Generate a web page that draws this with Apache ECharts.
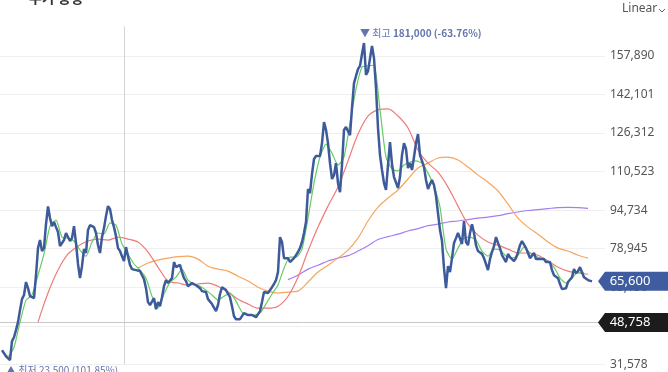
<!DOCTYPE html>
<html><head><meta charset="utf-8">
<script src="https://cdn.jsdelivr.net/npm/echarts/dist/echarts.min.js"></script>
<style>html,body{margin:0;padding:0;background:#fff}#c{width:668px;height:372px}</style>
</head><body><div id="c"></div>
<script>
// daily closing prices (one per trading day, oldest first)
const closes = [
 37400, 36200, 34900, 34100, 33300, 41100, 42700, 45600, 48900, 53800,
 58300, 60000, 65300, 62800, 59500, 59100, 58700, 68100, 79200, 82500,
 78000, 79200, 89000, 96300, 91500, 88200, 89900, 87800, 85800, 80000,
 79600, 82500, 85400, 86200, 82100, 83300, 88200, 81300, 72700, 66900,
 71800, 78800, 77200, 86600, 88600, 88600, 87800, 85400, 80400, 77200,
 83700, 87400, 92300, 96400, 95200, 90700, 87800, 84100, 79200, 78000,
 75900, 73900, 79600, 75900, 72300, 70600, 70600, 70200, 70200, 69800,
 68100, 66500, 62800, 57100, 55900, 55900, 58700, 54200, 57100, 55400,
 59100, 63600, 66100, 64900, 64900, 66900, 73500, 71400, 71800, 72300,
 69400, 66900, 65700, 63600, 63200, 64900, 64900, 64000, 63600, 62800,
 61600, 60800, 61200, 58300, 59100, 56300, 56300, 53400, 55900, 60400,
 63200, 62800, 62000, 61200, 59100, 55400, 51300, 50100, 49700, 50100,
 50900, 52600, 52600, 51800, 51300, 51800, 51300, 50900, 51300, 53400,
 57100, 61200, 60800, 60800, 61200, 63200, 64500, 66100, 69400, 83700,
 81700, 75100, 75500, 75100, 73500, 73500, 75100, 76300, 77600, 79200,
 81700, 85400, 89900, 103400, 101700, 109500, 115700, 116900, 117300, 116900,
 122200, 130800, 127600, 122200, 114000, 107500, 109100, 114000, 105800, 102100,
 113200, 127600, 128800, 127100, 125500, 136600, 146800, 149700, 152500, 153800,
 158700, 163200, 150100, 151700, 151300, 162000, 157000, 144800, 128400, 117300,
 111200, 105800, 103000, 113200, 122600, 113600, 108300, 107500, 103800, 108300,
 117300, 122200, 119800, 112000, 114000, 111200, 116500, 122200, 125900, 117300,
 114900, 112400, 107100, 103400, 105400, 107100, 105000, 100500, 93500, 86600,
 82100, 71000, 62800, 71800, 69400, 75100, 81300, 83300, 85400, 85800,
 80900, 90300, 81700, 80400, 85400, 89000, 85400, 80400, 78000, 78400,
 76800, 75100, 72700, 70200, 74700, 77600, 80000, 83700, 81300, 79200,
 76300, 76800, 73500, 76800, 75500, 75500, 73900, 75100, 77600, 80400,
 82100, 81300, 79200, 77200, 75100, 74700, 77200, 74700, 75500, 74700,
 73900, 74700, 73500, 73100, 73500, 70200, 68100, 68100, 66900, 64500,
 62400, 61600, 62800, 65300, 66100, 67300, 70600, 68900, 69800, 71400,
 71800, 67300, 66900, 66100, 66500, 65600
];

// moving averages: first day index, day step, values
const ma5Start = 0, ma5Step = 3;
const ma5 = [
 36600, 34900, 38600, 48900, 57900, 60000, 68100, 76800, 88200, 90700,
 83700, 83300, 82100, 78400, 75900, 81700, 85400, 85000, 89500, 88600,
 80900, 76800, 72700, 70200, 66900, 59500, 54600, 60400, 65300, 67300,
 70600, 66100, 64500, 63600, 62000, 60000, 57900, 59500, 60800, 57500,
 53000, 51800, 51800, 52600, 56300, 60400, 64100, 71000, 75500, 75500,
 78800, 91500, 105800, 116500, 121800, 118100, 113200, 116500, 130400, 144400,
 153400, 153800, 154200, 135800, 116500, 111600, 110800, 113200, 114400, 114900,
 114000, 109900, 104600, 96000, 78800, 74700, 79200, 83300, 83700, 82500,
 78000, 75900, 78800, 78400, 75900, 75100, 76300, 79600, 77200, 75900,
 74700, 73500, 71400, 66900, 64900, 66900, 69400, 69000
];
const ma20Start = 18, ma20Step = 5;
const ma20 = [
 48900, 60800, 70200, 76800, 80000, 82100, 82900, 82500, 83700, 82900,
 81700, 77600, 71400, 65700, 64900, 64000, 64500, 64900, 63600, 61200,
 58300, 56300, 54600, 54600, 55400, 59500, 67300, 78000, 87800, 96400,
 104200, 114900, 125900, 133300, 135800, 136200, 133300, 128400, 119400, 114000,
 110300, 104200, 96400, 89000, 84500, 81700, 80400, 78800, 77200, 77200,
 76300, 73900, 71400, 69800, 69000, 68500
];
const ma60Start = 68, ma60Step = 5;
const ma60 = [
 71000, 73100, 74300, 75100, 75700, 75900, 74700, 71800, 70600, 69800,
 67700, 65700, 63200, 61600, 60800, 61200, 61600, 65300, 69400, 72200,
 75100, 78400, 83300, 90300, 96000, 99700, 103000, 107500, 112000, 114000,
 116100, 116500, 115300, 112400, 109100, 106200, 102600, 97200, 91500, 87800,
 84900, 81700, 79200, 78000, 76300, 75100
];
const ma120Start = 143, ma120Step = 5;
const ma120 = [
 66300, 68100, 70600, 72200, 73900, 75100, 76100, 78000, 80200, 82700,
 83900, 84900, 86200, 87200, 88400, 89000, 89900, 90300, 90900, 91500,
 91900, 92500, 93300, 94000, 94600, 95000, 95400, 95800, 95900, 95800,
 95500
];

const yTicks = [31578, 47367, 63156, 78945, 94734, 110523, 126312, 142101, 157890];
const tickInterval = 15789;
const yMin = 31578, yMax = 170000;
const lastPrice = 65600;
const refPrice = 48758;
const dividerIndex = 61;
const highText = ['최고', '181,000 (-63.76%)'];
const lowText = ['최저', '23,500 (101.85%)'];
const titleText = '주가 동향';

const fmt = v => v.toLocaleString('en-US');
const toPairs = (arr, start, step) => arr.map((v, k) => [start + k * step, v]);
const xMax = closes.length - 1 + 6.5;

const chart = echarts.init(document.getElementById('c'), null, {renderer: 'canvas'});
const maLine = (name, data, color, smooth) => ({
  name, type: 'line', data, symbol: 'none', smooth, z: 3, silent: true,
  lineStyle: {color, width: 1.2}
});
const annoLabel = {
  show: true, position: 'inside', align: 'left', verticalAlign: 'middle',
  color: '#6276ad', fontSize: 10, fontFamily: 'Noto Sans CJK KR',
  rich: {
    a: {color: '#6276ad', fontSize: 10, fontFamily: 'Noto Sans CJK KR'},
    b: {color: '#6276ad', fontSize: 10, fontWeight: 'bold', fontFamily: 'Noto Sans CJK KR'}
  }
};
chart.setOption({
  animation: false,
  backgroundColor: '#fff',
  title: {text: titleText, left: 24, top: -14, textStyle: {fontSize: 14, color: '#333', fontWeight: 'bold', fontFamily: 'Noto Sans CJK KR'}},
  grid: {left: 0, right: 63, top: 26.4, bottom: 7.6},
  xAxis: {type: 'value', min: -1, max: xMax, show: false},
  yAxis: {
    type: 'value', position: 'right', min: yMin, max: yMax, interval: tickInterval,
    splitLine: {show: false}, axisLine: {show: false}, axisTick: {show: false},
    axisLabel: {margin: 5, color: '#555', fontSize: 12, fontFamily: 'Noto Sans',
      formatter: v => yTicks.indexOf(Math.round(v)) >= 0 ? fmt(Math.round(v)) : ''}
  },
  graphic: [
    {type: 'text', left: 622, top: 3, style: {text: 'Linear', fill: '#555', font: '12px "Noto Sans"'}},
    {type: 'polyline', shape: {points: [[659, 9], [662, 12], [665, 9]]}, style: {stroke: '#666', lineWidth: 1, fill: null}}
  ],
  series: [
    {
      type: 'line', data: [], z: 1, silent: true, clip: false,
      markLine: {
        z: 0, silent: true, symbol: ['none', 'none'], label: {show: false}, animation: false,
        lineStyle: {color: '#efefef', width: 1, type: 'solid'},
        data: yTicks.map(v => ({yAxis: v})).concat([
          {xAxis: dividerIndex, lineStyle: {color: '#d4d4d4', width: 1, type: 'solid'}},
          {yAxis: refPrice, lineStyle: {color: '#c8c8c8', width: 1, type: 'solid'}}
        ])
      }
    },
    maLine('MA120', toPairs(ma120, ma120Start, ma120Step), '#a87cf0', 0.3),
    maLine('MA60', toPairs(ma60, ma60Start, ma60Step), '#f5a65e', 0.3),
    maLine('MA20', toPairs(ma20, ma20Start, ma20Step), '#f07b7b', 0.3),
    maLine('MA5', toPairs(ma5, ma5Start, ma5Step), '#66cc66', 0.2),
    {
      name: 'close', type: 'line', data: closes.map((v, i) => [i, v]), symbol: 'none', z: 4, clip: false,
      lineStyle: {color: '#3d5a9b', width: 2.5},
      markPoint: {
        symbol: 'circle', symbolSize: 0, z: 6, silent: true,
        label: annoLabel,
        data: [
          {type: 'max', label: Object.assign({}, annoLabel, {offset: [-4, -10], formatter: '{a|▼ ' + highText[0] + '} {b|' + highText[1] + '}'})},
          {type: 'min', label: Object.assign({}, annoLabel, {offset: [-4, 10], formatter: '{a|▲ ' + lowText[0] + '} {a|' + lowText[1] + '}'})}
        ]
      }
    },
    {
      type: 'line', data: [], z: 10, silent: true, clip: false,
      markPoint: {
        z: 10, silent: true,
        symbol: 'path://M0,9 L7,0 L70,0 L70,18 L7,18 Z', symbolSize: [70, 19], symbolOffset: [28, 0],
        symbolKeepAspect: false,
        label: {show: true, position: 'inside', color: '#fff', fontSize: 13, fontFamily: 'Noto Sans', offset: [-3, 0],
          formatter: p => fmt(p.data.price)},
        data: [
          {coord: [xMax, lastPrice], price: lastPrice, itemStyle: {color: '#3f5ca0'}},
          {coord: [xMax, refPrice], price: refPrice, itemStyle: {color: '#1c1c1c'}}
        ]
      }
    }
  ]
});
</script>
</body></html>
